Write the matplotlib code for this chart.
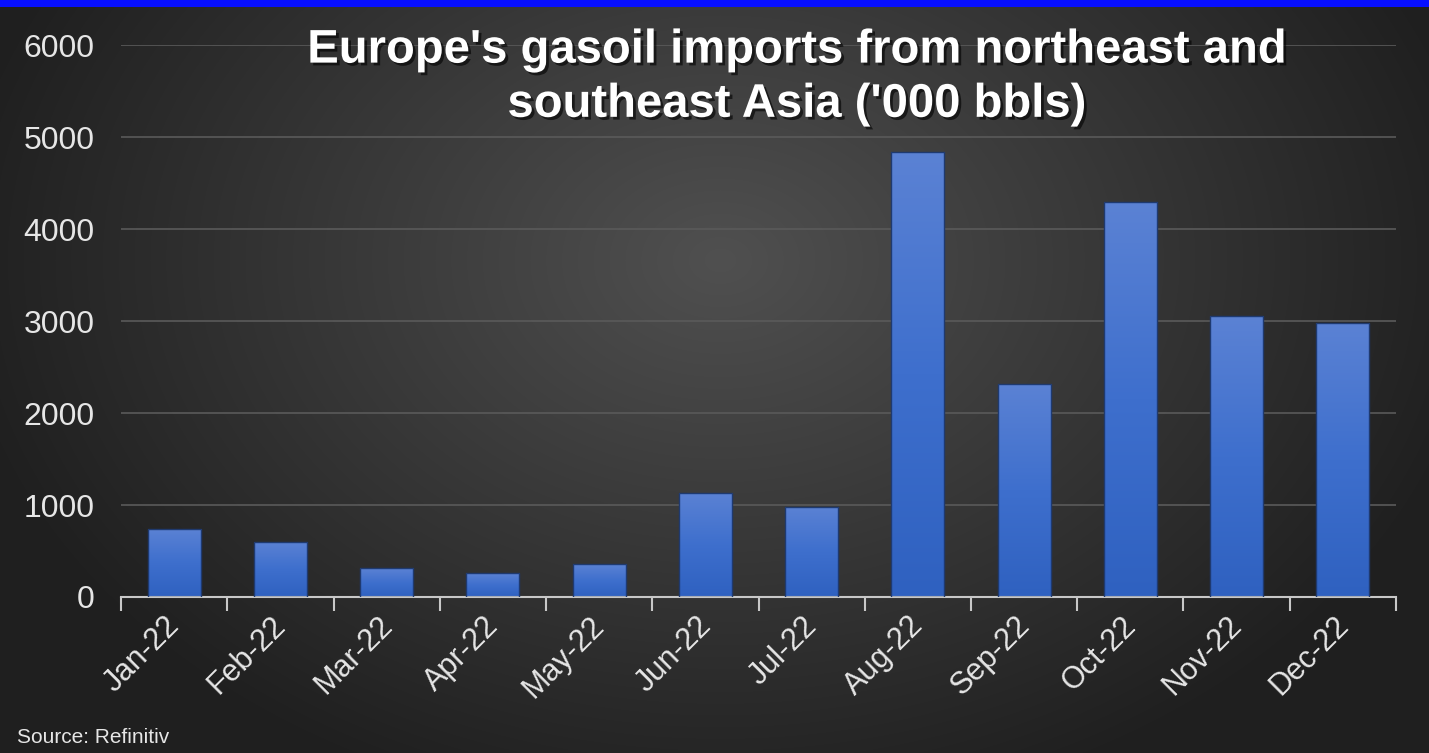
import numpy as np
import matplotlib
matplotlib.use("Agg")
import matplotlib.pyplot as plt
import matplotlib.patheffects as pe
from matplotlib.colors import LinearSegmentedColormap

months = ["Jan-22", "Feb-22", "Mar-22", "Apr-22", "May-22", "Jun-22",
          "Jul-22", "Aug-22", "Sep-22", "Oct-22", "Nov-22", "Dec-22"]
imports = [740, 600, 310, 260, 355, 1135, 980, 4840, 2320, 4300, 3055, 2980]
yticks = [0, 1000, 2000, 3000, 4000, 5000, 6000]
title = "Europe's gasoil imports from northeast and\nsoutheast Asia ('000 bbls)"
source = "Source: Refinitiv"

plt.rcParams['font.family'] = ['Liberation Sans', 'DejaVu Sans']

W, H = 1429, 753
fig = plt.figure(figsize=(W / 100, H / 100), dpi=100)

# background radial gradient
bg = fig.add_axes([0, 0, 1, 1])
bg.set_axis_off()
yy, xx = np.mgrid[0:H, 0:W]
cx, cy = 720, 260
r = np.sqrt(((xx - cx) / 760.0) ** 2 + ((yy - cy) / 560.0) ** 2)
r = np.clip(r, 0, 1)
c0 = np.array([0x50, 0x50, 0x50]) / 255
c1 = np.array([0x20, 0x20, 0x20]) / 255
img = c0[None, None, :] * (1 - r[..., None]) + c1[None, None, :] * r[..., None]
img[0:7, :, :] = np.array([0x08, 0x10, 0xff]) / 255
bg.imshow(img, extent=[0, 1, 0, 1], aspect='auto', transform=bg.transAxes, zorder=0)
bg.set_xlim(0, 1)
bg.set_ylim(0, 1)

ax = fig.add_axes([0.0847, 0.2072, 0.9769 - 0.0847, 0.940 - 0.2072])
ax.patch.set_alpha(0)
x = np.arange(len(months))
bars = ax.bar(x, imports, width=0.5, color='none', edgecolor='#1f3a70', linewidth=1.0, zorder=3)

cmap = LinearSegmentedColormap.from_list('b', ['#2f61c0', '#3e6fcd', '#5b82d4'])
grad = np.linspace(0, 1, 256).reshape(-1, 1)
for b in bars:
    x0, y0 = b.get_x(), b.get_y()
    w, h = b.get_width(), b.get_height()
    im = ax.imshow(grad, extent=[x0, x0 + w, y0, y0 + h], origin='lower', cmap=cmap,
                   aspect='auto', zorder=2)
    im.set_clip_path(b)

ax.set_xlim(-0.5, len(months) - 0.5)
ax.set_ylim(0, 6000)
ax.set_yticks(yticks)
ax.set_yticklabels([str(v) for v in yticks], fontsize=23, color='#e6e6e6')
ax.tick_params(axis='y', length=0, pad=19)
ax.yaxis.grid(True, color='#5a5a5a', linewidth=1.2, zorder=0)
ax.set_axisbelow(True)

ax.set_xticks(np.arange(-0.5, len(months) + 0.5, 1.0))
ax.set_xticklabels([])
ax.tick_params(axis='x', length=10, width=1.5, color='#c8c8c8', direction='out')
for i, m in enumerate(months):
    ax.text(i - 0.09, -150, m, rotation=45, ha='right', va='top', rotation_mode='anchor',
            fontsize=22, color='#e6e6e6')

for s in ['left', 'right', 'top']:
    ax.spines[s].set_visible(False)
ax.spines['bottom'].set_color('#c8c8c8')
ax.spines['bottom'].set_linewidth(1.5)

fig.text(0.558, 0.962, title, ha='center', va='top', fontsize=34, fontweight='bold',
         color='white', linespacing=1.3,
         path_effects=[pe.withSimplePatchShadow(offset=(2, -2), shadow_rgbFace='black', alpha=0.6)])
fig.text(0.012, 0.008, source, ha='left', va='bottom', fontsize=15, color='#e6e6e6')

fig.savefig("out.png", dpi=100)
